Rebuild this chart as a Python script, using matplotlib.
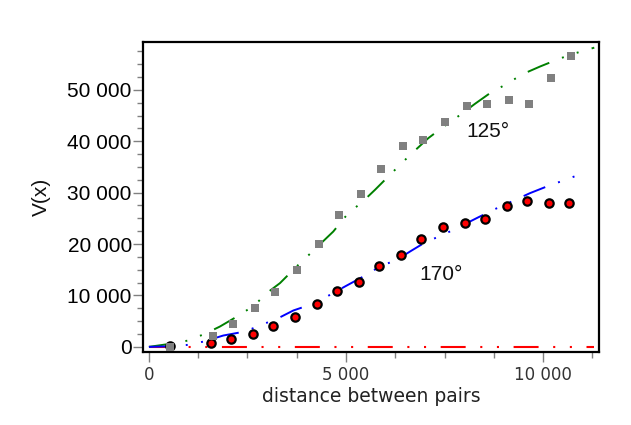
import matplotlib
matplotlib.use("Agg")
import matplotlib.pyplot as plt
from matplotlib.ticker import MultipleLocator, FuncFormatter

# ===== data =====
# empirical semivariogram, 125 deg direction (grey squares)
lag_125 = [533, 1616, 2124, 2682, 3190, 3748, 4306, 4814, 5372, 5880,
           6438, 6946, 7505, 8063, 8570, 9129, 9637, 10195, 10703]
gam_125 = [0, 2200, 4530, 7650, 10700, 15040, 20100, 25550, 29770, 34500,
           39100, 40270, 43770, 46900, 47280, 48050, 47280, 52330, 56600]

# empirical semivariogram, 170 deg direction (red circles)
lag_170 = [533, 1582, 2090, 2648, 3156, 3714, 4272, 4780, 5338, 5846,
           6404, 6912, 7470, 8028, 8536, 9094, 9602, 10160, 10668]
gam_170 = [200, 840, 1620, 2460, 4020, 5900, 8240, 10960, 12520, 15630,
           17960, 21070, 23400, 24180, 24960, 27300, 28460, 28070, 28070]

# model curves
mod_x_125 = [0, 533, 998, 1421, 1802, 2310, 2690, 2987, 3325, 3748, 4086,
             4678, 5059, 5398, 5736, 6033, 6456, 6751, 7090, 7428, 7936,
             8274, 8655, 8993, 9500, 9924, 10348, 10685, 11300]
mod_y_125 = [0, 580, 1230, 2530, 3950, 6230, 8170, 10440, 12390, 15630, 18090,
             22430, 26010, 28070, 30540, 32820, 36050, 38200, 40600, 42550, 45330,
             47280, 49350, 50780, 53110, 54530, 55840, 56810, 58200]

mod_x_170 = [0, 533, 998, 1396, 1886, 2437, 2860, 3283, 3664, 4256, 4594,
             4975, 5440, 5863, 6286, 6667, 7005, 7513, 7893, 8317, 8739,
             9206, 9670, 10094, 10516, 11024]
mod_y_170 = [0, 100, 390, 1040, 2200, 2980, 4280, 5580, 7070, 8620, 10120,
             11740, 13680, 15630, 16930, 18740, 20300, 21980, 23400, 25040, 26650,
             28270, 29900, 31190, 32350, 33790]

flat_x = [0, 11300]
flat_y = [0, 0]

labels = ["125°", "170°"]
label_pos = [(8063, 40900), (6860, 13030)]

# ===== plot =====
dashdotdot = (0, (12, 7, 1, 7, 1, 7))

fig = plt.figure(figsize=(6.31, 4.25), dpi=100)
ax = fig.add_axes([0.2266, 0.1718, 0.7227, 0.7294])

ax.plot(flat_x, flat_y, color="red", lw=1.5, ls=dashdotdot, zorder=2)
ax.plot(mod_x_125, mod_y_125, color="green", lw=1.4, ls=dashdotdot, zorder=2)
ax.plot(mod_x_170, mod_y_170, color="blue", lw=1.4, ls=dashdotdot, zorder=2)

ax.plot(lag_170, gam_170, "o", ms=6, mfc="red", mec="black", mew=1.6, zorder=3)
ax.plot(lag_125, gam_125, "s", ms=5.5, mfc="#808080", mec="#808080", mew=0, zorder=4)

for txt, (tx, ty) in zip(labels, label_pos):
    ax.text(tx, ty, txt, fontsize=15, family="Liberation Sans", color="#111111")

ax.set_xlim(-150, 11420)
ax.set_ylim(-1000, 59300)

ax.xaxis.set_major_locator(MultipleLocator(5000))
ax.xaxis.set_minor_locator(MultipleLocator(1250))
ax.yaxis.set_major_locator(MultipleLocator(10000))
ax.yaxis.set_minor_locator(MultipleLocator(2500))
fmt = FuncFormatter(lambda v, p: "{:,}".format(int(v)).replace(",", " "))
ax.xaxis.set_major_formatter(fmt)
ax.yaxis.set_major_formatter(fmt)

for s in ax.spines.values():
    s.set_linewidth(1.6)
    s.set_color("black")

ax.tick_params(which="major", direction="out", length=7, width=1, color="#808080")
ax.tick_params(which="minor", direction="out", length=4.5, width=1, color="#808080")
ax.tick_params(axis="x", labelsize=12, labelcolor="#333333", pad=3)
ax.tick_params(axis="y", labelsize=15, labelcolor="black", pad=1)
for lab in ax.get_yticklabels():
    lab.set_family("Liberation Sans")

ax.set_xlabel("distance between pairs", fontsize=13.5, color="#222222", labelpad=2)
ax.set_ylabel("V(x)", fontsize=15, family="Liberation Sans", color="#111111", labelpad=12)

fig.savefig("out.png", dpi=100)
